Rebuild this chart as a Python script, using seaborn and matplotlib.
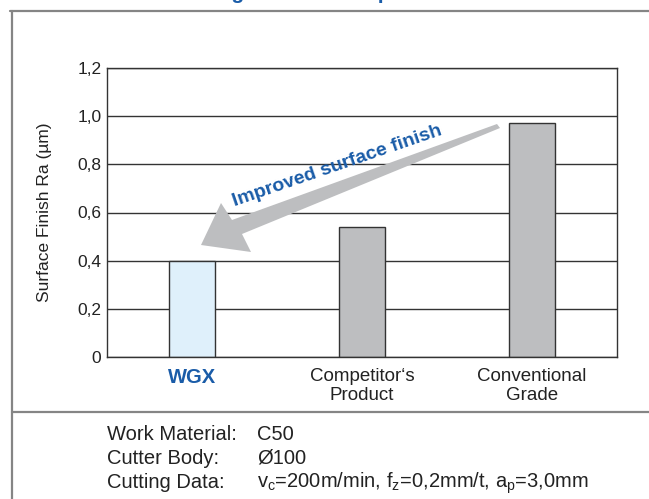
import numpy as np
import pandas as pd
import matplotlib
matplotlib.use("Agg")
import matplotlib.pyplot as plt
from matplotlib.patches import Polygon
from matplotlib.lines import Line2D
from matplotlib.ticker import FixedLocator
import seaborn as sns

# ---- data ----
categories = ["WGX", "Competitor\u2018s\nProduct", "Conventional\nGrade"]
values = [0.40, 0.54, 0.97]
bar_colors = ["#dff0fb", "#bdbec0", "#bdbec0"]
y_ticks = [0, 0.2, 0.4, 0.6, 0.8, 1.0, 1.2]
y_tick_labels = ["0", "0,2", "0,4", "0,6", "0,8", "1,0", "1,2"]
y_label = "Surface Finish Ra (\u00b5m)"
arrow_text = "Improved surface finish"
title = "Machining Results Comparison"
info_labels = ["Work Material:", "Cutter Body:", "Cutting Data:"]
info_values = ["C50", "\u00d8100",
               r"v$_\mathregular{c}$=200m/min, f$_\mathregular{z}$=0,2mm/t, a$_\mathregular{p}$=3,0mm"]

sns.set_style("white")
plt.rcParams["font.family"] = ["Liberation Sans", "DejaVu Sans"]
plt.rcParams["mathtext.fontset"] = "custom"
plt.rcParams["mathtext.rm"] = "Liberation Sans"

W, H = 649, 499
fig = plt.figure(figsize=(W / 100, H / 100), dpi=100)
fig.patch.set_facecolor("white")


def px(x, y):
    return x / W, 1 - y / H


ax_l, ax_r, ax_t, ax_b = 107, 617, 68, 357
ax = fig.add_axes([ax_l / W, 1 - ax_b / H, (ax_r - ax_l) / W, (ax_b - ax_t) / H])

df = pd.DataFrame({"cat": categories, "val": values})
sns.barplot(data=df, x="cat", y="val", hue="cat", palette=bar_colors,
            width=0.27, edgecolor="#333333", linewidth=1.0, legend=False,
            saturation=1, ax=ax)

ax.set_xlim(-0.5, len(categories) - 0.5)
ax.set_ylim(0, 1.2)
ax.set_yticks(y_ticks)
ax.set_yticklabels(y_tick_labels, fontsize=12.5, color="#222222")
ax.set_xlabel("")
ax.set_ylabel("")
ax.yaxis.grid(True, color="#333333", linewidth=1.0)
ax.set_axisbelow(True)
for s in ax.spines.values():
    s.set_visible(True)
    s.set_color("#333333")
    s.set_linewidth(1.0)
ax.tick_params(axis="y", length=0, pad=4)
ax.tick_params(axis="x", which="major", length=0, pad=8)
ax.xaxis.set_minor_locator(FixedLocator([0.5, 1.5]))
ax.tick_params(axis="x", which="minor", direction="in", length=7,
               color="#333333", width=1.0)
ax.set_xticks(range(len(categories)))
ax.set_xticklabels(categories, fontsize=13.5, color="#222222", linespacing=1.15)
lab0 = ax.get_xticklabels()[0]
lab0.set_color("#1a5ca8")
lab0.set_fontweight("bold")
lab0.set_fontsize(14.5)

# y label
fig.text(*px(45, (ax_t + ax_b) / 2), y_label, rotation=90, ha="center",
         va="center", fontsize=12.5, color="#222222")

# arrow (annotation shape)
arrow_pts = [(500, 128), (242, 234), (251, 252), (201, 245),
             (221, 203), (232, 220), (497, 124)]
poly = Polygon([px(x, y) for x, y in arrow_pts], closed=True,
               transform=fig.transFigure, facecolor="#bdbec0",
               edgecolor="none", zorder=5)
fig.add_artist(poly)
fig.text(*px(337, 166), arrow_text, rotation=19, ha="center", va="center",
         fontsize=14, fontweight="bold", color="#1a5ca8",
         rotation_mode="anchor", zorder=6)

# frame lines
line_col = "#858585"
for (x0, y0, x1, y1) in [(10, 11, 649, 11), (12, 11, 12, 499), (12, 412, 649, 412)]:
    (a, b), (c, d) = px(x0, y0), px(x1, y1)
    fig.add_artist(Line2D([a, c], [b, d], transform=fig.transFigure,
                          color=line_col, linewidth=1.6))

# title (mostly outside the top edge, as in the reference)
fig.text(*px(141, -1), title, ha="left", va="baseline", fontsize=15,
         fontweight="bold", color="#1a5ca8")

# bottom info
for i, (lab, val) in enumerate(zip(info_labels, info_values)):
    yb = 440 + i * 24
    fig.text(*px(107, yb), lab, ha="left", va="baseline", fontsize=14.5,
             color="#222222")
    fig.text(*px(257, yb), val, ha="left", va="baseline", fontsize=14.5,
             color="#222222")

fig.savefig("out.png", dpi=100)
